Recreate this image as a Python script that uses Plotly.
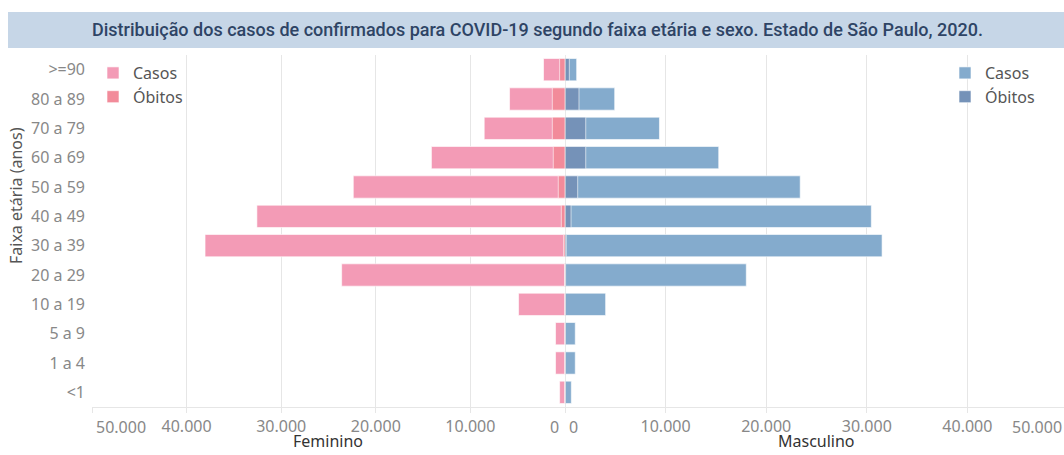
import plotly.graph_objects as go

faixas = [">=90", "80 a 89", "70 a 79", "60 a 69", "50 a 59", "40 a 49",
          "30 a 39", "20 a 29", "10 a 19", "5 a 9", "1 a 4", "<1"]
fem_casos = [2270, 5860, 8540, 14120, 22380, 32570, 38050, 23610, 4910, 1000, 1000, 570]
fem_obitos = [570, 1340, 1340, 1240, 710, 390, 150, 40, 10, 5, 5, 5]
masc_casos = [1160, 4940, 9390, 15280, 23380, 30450, 31520, 18020, 4040, 1020, 1020, 630]
masc_obitos = [430, 1390, 2060, 2060, 1260, 600, 130, 60, 10, 5, 5, 5]

tick_vals = [10000, 20000, 30000, 40000]
tick_text = ["10.000", "20.000", "30.000", "40.000"]

W, H = 1064, 455
C_FC, C_FO = "#f39bb6", "#f28b9a"
C_MC, C_MO = "#84abcd", "#7592b8"
GRID = "#e6e6e6"
TICKC = "#888888"
FONT = "Noto Sans"


def px(x):
    return x / W


def py(y):
    return (H - y) / H


fig = go.Figure()
line = dict(width=1, color="rgba(255,255,255,0.6)")
fig.add_trace(go.Bar(y=faixas, x=fem_casos, orientation="h", name="Casos",
                     marker=dict(color=C_FC, line=line), width=0.76,
                     xaxis="x", yaxis="y", legend="legend"))
fig.add_trace(go.Bar(y=faixas, x=fem_obitos, orientation="h", name="Óbitos",
                     marker=dict(color=C_FO, line=line), width=0.76,
                     xaxis="x", yaxis="y", legend="legend"))
fig.add_trace(go.Bar(y=faixas, x=masc_casos, orientation="h", name="Casos",
                     marker=dict(color=C_MC, line=line), width=0.76,
                     xaxis="x2", yaxis="y", legend="legend2"))
fig.add_trace(go.Bar(y=faixas, x=masc_obitos, orientation="h", name="Óbitos",
                     marker=dict(color=C_MO, line=line), width=0.76,
                     xaxis="x2", yaxis="y", legend="legend2"))

# layout positions in page pixels (figure drawn at page origin)
x0, xm, x1 = px(92), px(565), 1.0
ybot, ytop = py(407), py(55)
right_max = 50000 * (W - 565) / (1068 - 565)

axis_common = dict(showgrid=True, gridcolor=GRID, gridwidth=1, zeroline=False,
                   showline=True, linecolor=GRID, ticks="outside", ticklen=5,
                   tickcolor=GRID, tickfont=dict(family=FONT, size=16, color=TICKC),
                   automargin=False, fixedrange=True)

fig.update_layout(
    width=W, height=H,
    margin=dict(l=0, r=0, t=0, b=0),
    paper_bgcolor="white", plot_bgcolor="white",
    barmode="overlay",
    font=dict(family=FONT),
    xaxis=dict(domain=[x0, xm], range=[50000, 0],
               tickvals=[0] + tick_vals + [50000], ticktext=[""] + tick_text + [""],
               **axis_common),
    xaxis2=dict(domain=[xm, x1], range=[0, right_max],
                tickvals=[0] + tick_vals, ticktext=[""] + tick_text,
                **axis_common),
    yaxis=dict(domain=[ybot, ytop], categoryorder="array", categoryarray=faixas,
               autorange="reversed", showgrid=False, zeroline=False, showline=False,
               ticks="", ticklabelstandoff=6,
               tickfont=dict(family=FONT, size=16, color=TICKC),
               automargin=False, fixedrange=True),
    legend=dict(x=px(93), y=py(56), xanchor="left", yanchor="top",
                bgcolor="rgba(0,0,0,0)", font=dict(family=FONT, size=16, color="#555555"),
                tracegroupgap=0, itemclick=False),
    legend2=dict(x=px(945), y=py(56), xanchor="left", yanchor="top",
                 bgcolor="rgba(0,0,0,0)", font=dict(family=FONT, size=16, color="#555555"),
                 tracegroupgap=0, itemclick=False),
    showlegend=True,
)

# Title banner
fig.add_shape(type="rect", xref="paper", yref="paper",
              x0=px(8), x1=1.0, y0=py(48), y1=py(12),
              fillcolor="#c6d6e7", line=dict(width=0), layer="below")
fig.add_annotation(text="Distribuição dos casos de confirmados para COVID-19 segundo faixa etária e sexo. Estado de São Paulo, 2020.",
                   xref="paper", yref="paper", x=px(537), y=py(30),
                   showarrow=False, xanchor="center", yanchor="middle",
                   font=dict(family="Roboto", size=18, color="#2e4465", weight=500))

# y axis title
fig.add_annotation(text="Faixa etária (anos)", xref="paper", yref="paper",
                   x=px(16), y=py(196), textangle=-90, showarrow=False,
                   xanchor="center", yanchor="middle",
                   font=dict(family=FONT, size=16, color="#555555"))

# zero line between panels
fig.add_shape(type="line", xref="x2", yref="paper", x0=0, x1=0, y0=ybot, y1=ytop,
              line=dict(color="#d4d4d4", width=1), layer="above")

# axis titles
tt = dict(family=FONT, size=16, color="#333333")
fig.add_annotation(text="Feminino", xref="paper", yref="paper", x=px(328), y=py(454),
                   showarrow=False, xanchor="center", yanchor="bottom", font=tt)
fig.add_annotation(text="Masculino", xref="paper", yref="paper", x=px(816), y=py(454),
                   showarrow=False, xanchor="center", yanchor="bottom", font=tt)

# edge tick labels
lab_y = py(427)
tf = dict(family=FONT, size=16, color=TICKC)
fig.add_annotation(text="50.000", xref="paper", yref="paper", x=px(121), y=lab_y,
                   showarrow=False, xanchor="center", yanchor="middle", font=tf)
fig.add_annotation(text="0", xref="paper", yref="paper", x=px(561), y=lab_y,
                   showarrow=False, xanchor="right", yanchor="middle", font=tf)
fig.add_annotation(text="0", xref="paper", yref="paper", x=px(567), y=lab_y,
                   showarrow=False, xanchor="left", yanchor="middle", font=tf)
fig.add_annotation(text="50.000", xref="paper", yref="paper", x=px(1037), y=lab_y,
                   showarrow=False, xanchor="center", yanchor="middle", font=tf)

fig.write_html(
    "out.html",
    config={"displayModeBar": False},
    post_script="document.body.style.margin='0';"
                "document.documentElement.style.overflow='hidden';",
)
